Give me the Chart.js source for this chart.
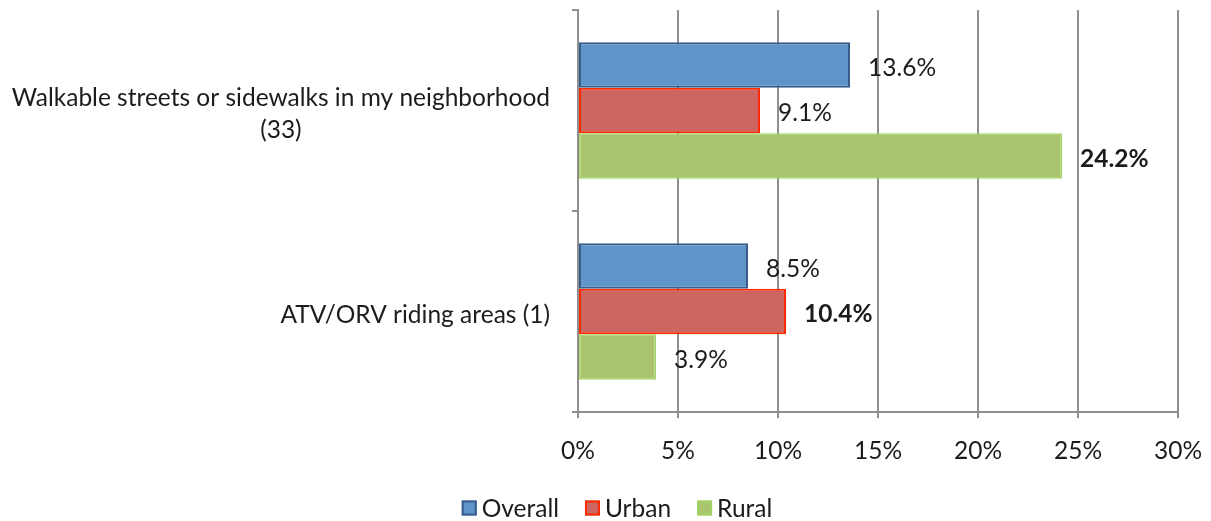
<!DOCTYPE html>
<html><head><meta charset="utf-8">
<script src="https://cdn.jsdelivr.net/npm/chart.js@4/dist/chart.umd.min.js"></script>
<style>html,body{margin:0;padding:0;background:#fff}#wrap{width:1211px;height:521px;position:relative}</style>
</head><body><div id="wrap"><canvas id="c"></canvas></div>
<script>
const categories = [["Walkable streets or sidewalks in my neighborhood", "(33)"], ["ATV/ORV riding areas (1)"]];
const seriesNames = ["Overall", "Urban", "Rural"];
const overall = [13.6, 8.5];
const urban = [9.1, 10.4];
const rural = [24.2, 3.9];
const xTickValues = [0, 5, 10, 15, 20, 25, 30];

const FAM = "Lato, 'Open Sans', sans-serif";
const FS = 24.5;
const TXT = '#1c1c1c';
const GRID = '#8f8f8f';

const fills = ['#5F95C8', '#CD6560', '#ABC56F'];
const borders = ['#385D8A', '#FF2A00', '#9FD463'];
const bw = [2, 2, 1.5];

const yLabelPlugin = {
  id: 'yLabels',
  afterDraw(chart) {
    const ctx = chart.ctx, ys = chart.scales.y;
    ctx.save();
    ctx.font = FS + 'px ' + FAM;
    ctx.fillStyle = TXT;
    ctx.textBaseline = 'middle';
    ctx.textAlign = 'center';
    const right = chart.chartArea.left - 28;
    categories.forEach((lab, i) => {
      const lines = Array.isArray(lab) ? lab : [lab];
      const w = Math.max(...lines.map(s => ctx.measureText(s).width));
      const cx = right - w / 2;
      const yc = ys.getPixelForValue(i) + 4;
      const lh = 32;
      lines.forEach((s, k) => ctx.fillText(s, cx, yc + (k - (lines.length - 1) / 2) * lh));
    });
    ctx.restore();
  }
};

const valueLabelPlugin = {
  id: 'valueLabels',
  afterDatasetsDraw(chart) {
    const ctx = chart.ctx;
    ctx.save();
    ctx.fillStyle = TXT;
    ctx.textBaseline = 'middle';
    ctx.textAlign = 'left';
    chart.data.datasets.forEach((ds, di) => {
      const meta = chart.getDatasetMeta(di);
      meta.data.forEach((bar, i) => {
        const vals = chart.data.datasets.map(d => d.data[i]);
        const isMax = ds.data[i] === Math.max(...vals);
        ctx.font = (isMax ? 'bold ' : '') + FS + 'px ' + FAM;
        ctx.fillText(ds.data[i].toFixed(1) + '%', bar.x + 18, bar.y + 3);
      });
    });
    ctx.restore();
  }
};

const legendPlugin = {
  id: 'customLegend',
  afterDraw(chart) {
    const ctx = chart.ctx;
    ctx.save();
    ctx.font = FS + 'px ' + FAM;
    ctx.textBaseline = 'middle';
    ctx.textAlign = 'left';
    const box = 15, gapText = 5, gapItem = 26;
    const widths = seriesNames.map(s => box + gapText + ctx.measureText(s).width);
    const total = widths.reduce((a, b) => a + b, 0) + gapItem * (seriesNames.length - 1);
    let x = 617 - total / 2;
    const yc = 508;
    seriesNames.forEach((s, i) => {
      ctx.fillStyle = fills[i];
      ctx.fillRect(x, yc - box / 2, box, box);
      ctx.strokeStyle = borders[i];
      ctx.lineWidth = 2;
      ctx.strokeRect(x + 1, yc - box / 2 + 1, box - 2, box - 2);
      ctx.fillStyle = TXT;
      ctx.fillText(s, x + box + gapText, yc + 1);
      x += widths[i] + gapItem;
    });
    ctx.restore();
  }
};

const mk = (label, data, i) => ({
  label, data,
  backgroundColor: fills[i],
  borderColor: borders[i],
  borderWidth: bw[i],
  borderSkipped: false,
  categoryPercentage: 0.68,
  barPercentage: 1.0
});

new Chart(document.getElementById('c'), {
  type: 'bar',
  data: {
    labels: categories,
    datasets: [mk(seriesNames[0], overall, 0), mk(seriesNames[1], urban, 1), mk(seriesNames[2], rural, 2)]
  },
  options: {
    indexAxis: 'y',
    responsive: true,
    maintainAspectRatio: false,
    animation: false,
    layout: { padding: { top: 10, right: 33, bottom: 30, left: 0 } },
    plugins: { legend: { display: false }, tooltip: { enabled: false } },
    scales: {
      x: {
        min: 0, max: 30,
        afterBuildTicks(scale) { scale.ticks = xTickValues.map(v => ({ value: v })); },
        afterFit(scale) { scale.height = 79; scale.paddingRight = 0; scale.paddingLeft = 0; },
        ticks: { callback: v => v + '%', color: TXT, font: { size: FS, family: FAM }, padding: 18, maxRotation: 0 },
        grid: { color: GRID, lineWidth: 2, tickLength: 6, drawOnChartArea: true },
        border: { color: GRID, width: 2 }
      },
      y: {
        afterFit(scale) { scale.width = 578; scale.paddingTop = 0; scale.paddingBottom = 0; },
        ticks: { display: false },
        grid: { color: GRID, lineWidth: 2, tickLength: 6, drawOnChartArea: false, offset: true },
        border: { color: GRID, width: 2 }
      }
    }
  },
  plugins: [yLabelPlugin, valueLabelPlugin, legendPlugin]
});
</script>
</body></html>
